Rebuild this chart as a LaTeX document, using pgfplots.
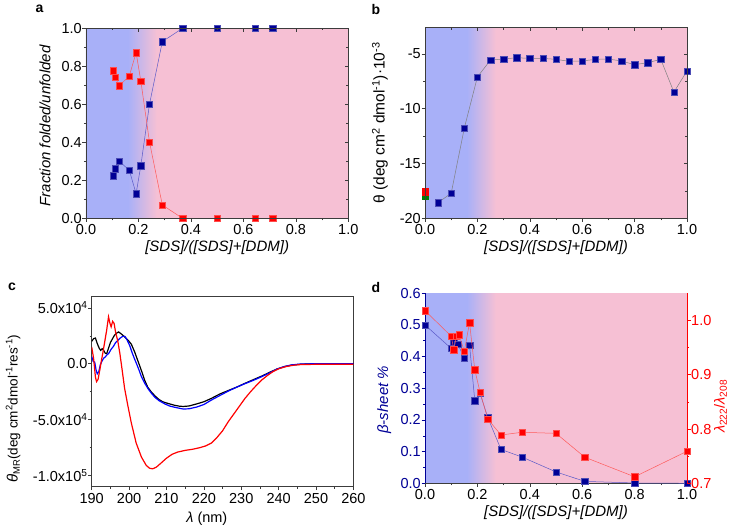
\documentclass[border=0pt]{standalone}
\usepackage{fontspec}
\setmainfont{Liberation Sans}
\usepackage{pgfplots}
\pgfplotsset{compat=1.18}
\definecolor{bgblue}{RGB}{168,176,248}
\definecolor{bgpink}{RGB}{246,192,212}
\definecolor{navyc}{RGB}{0,0,150}
\definecolor{redc}{RGB}{255,0,0}
\definecolor{framec}{RGB}{60,60,60}
\definecolor{bline}{RGB}{90,90,200}
\definecolor{rline}{RGB}{255,90,90}
\pgfdeclarehorizontalshading{bgshade}{100bp}{color(0bp)=(bgblue); color(33bp)=(bgblue); color(38.5bp)=(bgpink); color(100bp)=(bgpink)}
\pgfplotsset{
  base/.style={scale only axis, axis line style={framec, line width=0.6pt},
    every tick/.style={framec, line width=0.6pt}, major tick length=3.5pt, minor tick length=2pt,
    tick label style={font=\fontsize{14.5}{16}\selectfont, inner sep=0.5pt},
    xticklabel style={yshift=-2pt},
    yticklabel style={inner ysep=0pt},
    label style={font=\fontsize{15}{17}\selectfont\itshape, inner sep=0pt},
    /pgf/number format/assume math mode=true,
    /pgf/number format/fixed, /pgf/number format/fixed zerofill, /pgf/number format/precision=1,
    tick align=outside, xtick pos=left, ytick pos=left},
  mirror/.style={scale only axis, axis line style={framec, line width=0.6pt},
    every tick/.style={framec, line width=0.6pt}, major tick length=3.5pt, minor tick length=2pt,
    tick align=inside, xtick pos=right, ytick pos=right, xticklabels={}, yticklabels={}},
  bsq/.style={mark=square*, mark size=3.2pt, mark options={fill=navyc, draw=navyc!70!white, line width=0.4pt, solid}},
  rsq/.style={mark=square*, mark size=3.2pt, mark options={fill=redc, draw=redc!70!white, line width=0.4pt, solid}},
}
\begin{document}
\begin{tikzpicture}
\path (0,0) rectangle (729pt,528pt);
\node[font=\fontsize{14}{16}\selectfont\bfseries] at (39.5pt,519pt) {a};
\node[font=\fontsize{14}{16}\selectfont\bfseries] at (376pt,518.5pt) {b};
\node[font=\fontsize{14}{16}\selectfont\bfseries] at (12pt,241pt) {c};
\node[font=\fontsize{14}{16}\selectfont\bfseries] at (376pt,241pt) {d};

% ---- panel a
\begin{axis}[base, at={(86pt,309.7pt)}, anchor=south west, width=262.3pt, height=190pt,
  xmin=0, xmax=1, ymin=0, ymax=1,
  xtick={0,0.2,0.4,0.6,0.8,1}, minor xtick={0.1,0.3,0.5,0.7,0.9},
  ytick={0,0.2,0.4,0.6,0.8,1}, minor ytick={0.1,0.3,0.5,0.7,0.9},
  axis background/.style={shading=bgshade},
  xlabel={[SDS]/([SDS]+[DDM])}, ylabel={Fraction folded/unfolded},
  xlabel style={at={(axis description cs:0.5,-0.152)}, anchor=center},
  ylabel style={at={(axis description cs:-0.156,0.486)}, anchor=center}]
\addplot[bline, line width=0.5pt, bsq] coordinates {(0.104,0.225) (0.111,0.26) (0.127,0.30) (0.165,0.253) (0.191,0.13) (0.209,0.277) (0.242,0.60) (0.291,0.93) (0.368,1.0) (0.501,1.0) (0.645,1.0) (0.712,1.0)};
\addplot[rline, line width=0.5pt, rsq] coordinates {(0.104,0.777) (0.111,0.742) (0.127,0.698) (0.165,0.749) (0.191,0.872) (0.209,0.723) (0.242,0.402) (0.291,0.07) (0.368,0) (0.501,0) (0.645,0) (0.712,0)};
\end{axis}
\begin{axis}[mirror, at={(86pt,309.7pt)}, anchor=south west, width=262.3pt, height=190pt,
  xmin=0, xmax=1, ymin=0, ymax=1,
  xtick={0,0.2,0.4,0.6,0.8,1}, minor xtick={0.1,0.3,0.5,0.7,0.9},
  ytick={0,0.2,0.4,0.6,0.8,1}, minor ytick={0.1,0.3,0.5,0.7,0.9}]
\end{axis}

% ---- panel b
\begin{axis}[base, at={(425pt,309.7pt)}, anchor=south west, width=262pt, height=190.6pt,
  xmin=0, xmax=1, ymin=-20, ymax=-2.6,
  xtick={0,0.2,0.4,0.6,0.8,1}, minor xtick={0.1,0.3,0.5,0.7,0.9},
  ytick={-20,-15,-10,-5}, yticklabels={-20,-15,-10,-5}, minor ytick={-17.5,-12.5,-7.5},
  axis background/.style={shading=bgshade},
  xlabel={[SDS]/([SDS]+[DDM])},
  xlabel style={at={(axis description cs:0.5,-0.152)}, anchor=center},
  ylabel={θ (deg cm\textsuperscript{2} dmol\textsuperscript{-1})·10\textsuperscript{-3}},
  ylabel style={font=\fontsize{15.5}{17}\selectfont, at={(axis description cs:-0.172,0.5)}, anchor=center}]
\addplot[gray, line width=0.5pt, bsq] coordinates {(0.05,-18.57) (0.1,-17.71) (0.15,-11.77) (0.2,-7.1) (0.25,-5.55) (0.3,-5.46) (0.35,-5.34) (0.4,-5.4) (0.45,-5.4) (0.5,-5.49) (0.55,-5.67) (0.6,-5.64) (0.65,-5.49) (0.7,-5.46) (0.75,-5.64) (0.8,-5.98) (0.85,-5.79) (0.9,-5.49) (0.95,-8.48) (1.0,-6.55)};
\addplot[only marks, mark=square*, mark size=3.3pt, mark options={fill=green!50!black, draw=green!50!black}] coordinates {(0,-17.95)};
\addplot[only marks, mark=square*, mark size=3.3pt, mark options={fill=redc, draw=redc}] coordinates {(0,-17.57)};
\end{axis}
\begin{axis}[mirror, at={(425pt,309.7pt)}, anchor=south west, width=262pt, height=190.6pt,
  xmin=0, xmax=1, ymin=-20, ymax=-2.6,
  xtick={0,0.2,0.4,0.6,0.8,1}, minor xtick={0.1,0.3,0.5,0.7,0.9},
  ytick={-20,-15,-10,-5}, minor ytick={-17.5,-12.5,-7.5}]
\end{axis}

% ---- panel c
\begin{axis}[base, at={(91.7pt,41.3pt)}, anchor=south west, width=261.7pt, height=190pt,
  xmin=190, xmax=260, ymin=-110000, ymax=60000, scaled y ticks=false,
  xtick={190,200,...,260}, minor xtick={195,205,...,255},
  xticklabel={\pgfmathprintnumber[fixed,precision=0]{\tick}},
  ytick={-100000,-50000,0,50000}, yticklabels={-1.0x10\textsuperscript{5},-5.0x10\textsuperscript{4},0.0,5.0x10\textsuperscript{4}},
  minor ytick={-75000,-25000,25000},
  xlabel={\textit{λ} (nm)}, xlabel style={font=\fontsize{14.5}{16}\selectfont, at={(axis description cs:0.44,-0.168)}, anchor=center},
  ylabel={{\fontsize{15}{16}\selectfont\textit{θ}}\textsubscript{MR}(deg cm\textsuperscript{2}dmol\textsuperscript{-1}res\textsuperscript{-1})},
  ylabel style={font=\fontsize{13.5}{15}\selectfont, at={(axis description cs:-0.30,0.41)}, anchor=center}]
\addplot[black, line width=1.2pt] coordinates {(190.0,20000) (190.5,22500) (191.0,23000) (191.5,18000) (192.0,14000) (192.4,12000) (192.8,13500) (193.2,12000) (193.6,9500) (194.0,9000) (194.5,14000) (195.0,19000) (195.5,22000) (196.0,25000) (196.5,27000) (197.2,28500) (197.8,27000) (198.5,25000) (199.3,22500) (200.0,20000) (200.6,17500) (201.5,10500) (202.2,4000) (202.8,-1500) (203.5,-8000) (204.2,-15000) (205.0,-21000) (206.0,-25500) (207.0,-29000) (208.0,-32000) (209.0,-34000) (210.4,-35500) (212.0,-37000) (213.5,-38000) (214.5,-38200) (216.0,-37800) (218.0,-36000) (220.0,-34000) (222.0,-31000) (224.3,-27000) (226.5,-24000) (228.8,-20900) (231.0,-17500) (233.2,-14300) (235.5,-11000) (237.7,-7500) (239.5,-4800) (241.5,-2600) (243.5,-1200) (246.0,-400) (250.0,0) (260.0,0)};
\addplot[blue, line width=1.2pt] coordinates {(190.0,6500) (190.4,2000) (190.8,1500) (191.2,-6000) (191.5,-9000) (191.9,-7000) (192.3,-1000) (192.7,2000) (193.2,5000) (193.6,6000) (194.1,8000) (194.6,9500) (195.2,13000) (195.8,15500) (196.4,19000) (197.0,21000) (197.6,23000) (198.3,24500) (198.9,24500) (199.5,21000) (200.2,16000) (200.8,10000) (201.5,4000) (202.0,0) (202.7,-6000) (203.3,-11500) (204.2,-17500) (205.1,-22500) (206.0,-26500) (206.9,-30000) (208.0,-33000) (209.6,-36000) (211.0,-38000) (213.0,-39500) (214.5,-40500) (216.0,-40300) (218.0,-38800) (220.0,-36500) (222.0,-32500) (224.3,-28400) (226.5,-24500) (228.8,-20900) (231.0,-17800) (233.2,-14900) (235.5,-11500) (237.7,-8000) (239.5,-4800) (241.5,-2500) (243.5,-1000) (246.0,-200) (250.0,0) (260.0,0)};
\addplot[redc, line width=1.2pt] coordinates {(190.0,15000) (190.5,5000) (191.0,-12000) (191.3,-16000) (191.7,-14000) (192.2,-5000) (192.6,3000) (193.0,10000) (193.5,20000) (194.0,30000) (194.5,42000) (194.9,36000) (195.2,33000) (195.6,38000) (196.0,36000) (196.4,28000) (197.0,20000) (197.5,10000) (198.0,-2000) (198.8,-22000) (199.7,-38000) (200.6,-53000) (201.9,-71000) (203.3,-83500) (204.6,-91000) (205.5,-93500) (206.3,-94000) (207.3,-92500) (208.5,-89000) (210.0,-84500) (211.5,-81000) (213.0,-79000) (215.0,-77500) (217.0,-76500) (219.0,-75000) (220.5,-73500) (222.0,-71000) (223.5,-66000) (225.0,-60000) (226.5,-52000) (228.0,-45000) (229.5,-38000) (231.0,-31000) (232.5,-25000) (234.0,-19500) (235.5,-14500) (237.0,-10500) (238.5,-7000) (240.0,-4500) (242.0,-2500) (244.0,-1300) (246.0,-700) (250.0,-500) (260.0,-500)};
\end{axis}

% ---- panel d
\begin{axis}[base, at={(425pt,44.7pt)}, anchor=south west, width=262pt, height=190pt,
  xmin=0, xmax=1, ymin=0, ymax=0.6,
  axis x line*=bottom, axis y line*=left,
  y axis line style={navyc}, ytick style={navyc}, yticklabel style={navyc},
  xtick={0,0.2,0.4,0.6,0.8,1}, minor xtick={0.1,0.3,0.5,0.7,0.9},
  ytick={0,0.1,...,0.6}, minor ytick={0.05,0.15,...,0.55},
  axis background/.style={shading=bgshade},
  xlabel={[SDS]/([SDS]+[DDM])}, ylabel={β-sheet \%},
  xlabel style={at={(axis description cs:0.5,-0.152)}, anchor=center},
  ylabel style={navyc, at={(axis description cs:-0.156,0.44)}, anchor=center}]
\addplot[bline, line width=0.5pt, bsq] coordinates {(0,0.5) (0.1,0.426) (0.11,0.447) (0.125,0.44) (0.15,0.395) (0.17,0.437) (0.19,0.261) (0.21,0.284) (0.24,0.207) (0.29,0.107) (0.37,0.083) (0.5,0.036) (0.61,0.006) (0.8,0.001) (1.0,0.0)};
\end{axis}
\begin{axis}[base, at={(425pt,44.7pt)}, anchor=south west, width=262pt, height=190pt,
  xmin=0, xmax=1, ymin=0.7, ymax=1.05,
  axis x line=none, axis y line*=right, ytick pos=right,
  y axis line style={redc}, ytick style={redc}, yticklabel style={redc},
  ytick={0.7,0.8,0.9,1.0}, minor ytick={0.75,0.85,0.95},
  ylabel={\textit{λ}\textsubscript{222}/\textit{λ}\textsubscript{208}},
  ylabel style={redc, font=\fontsize{14.5}{16}\selectfont, at={(axis description cs:1.128,0.405)}, anchor=center}]
\addplot[rline, line width=0.5pt, rsq] coordinates {(0,1.018) (0.1,0.971) (0.11,0.946) (0.12,0.971) (0.13,0.974) (0.15,0.943) (0.17,0.996) (0.19,0.909) (0.21,0.868) (0.24,0.818) (0.29,0.789) (0.37,0.794) (0.5,0.792) (0.61,0.748) (0.8,0.712) (1.0,0.759)};
\end{axis}
\end{tikzpicture}
\end{document}
